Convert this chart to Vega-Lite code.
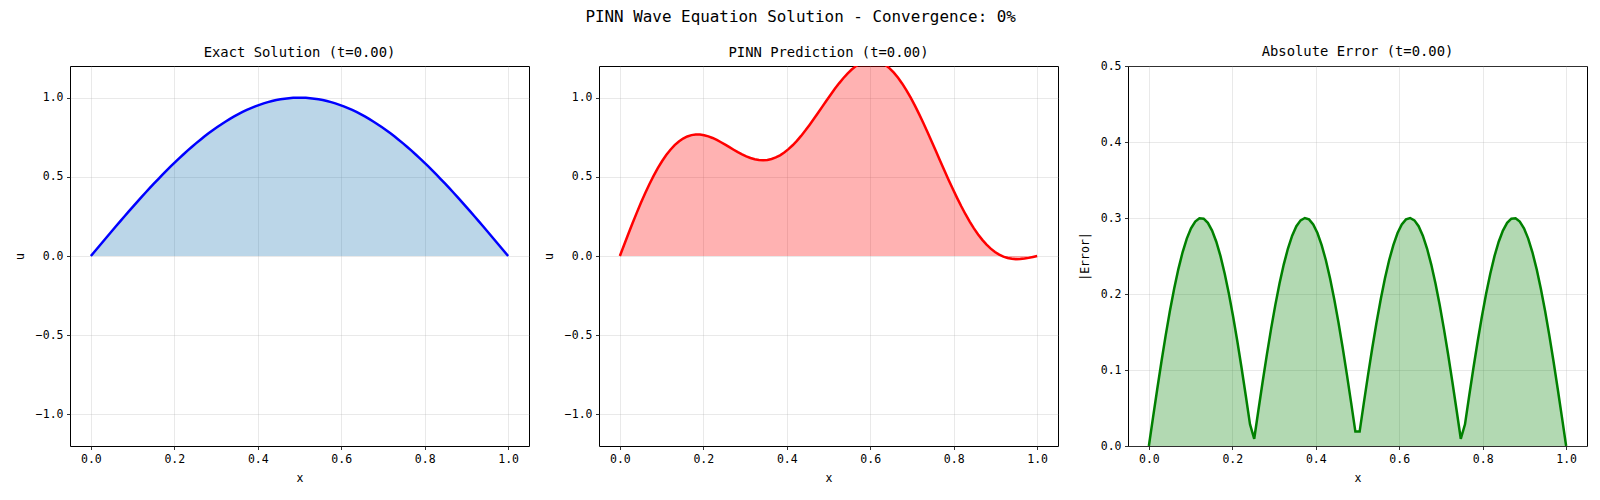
{
  "$schema": "https://vega.github.io/schema/vega-lite/v6.json",
  "padding": {"left": 13, "top": 8, "right": 5, "bottom": 5},
  "background": "white",
  "title": {"text": "PINN Wave Equation Solution - Convergence: 0%", "fontSize": 15.9, "anchor": "middle", "offset": 20},
  "data": {"values": [
    {"x": 0, "exact": 0, "pred": 0, "error": 0},
    {"x": 0.0101, "exact": 0.0317, "pred": 0.0697, "error": 0.0380},
    {"x": 0.0202, "exact": 0.0634, "pred": 0.1388, "error": 0.0753},
    {"x": 0.0303, "exact": 0.0951, "pred": 0.2066, "error": 0.1115},
    {"x": 0.0404, "exact": 0.1266, "pred": 0.2725, "error": 0.1459},
    {"x": 0.0505, "exact": 0.1580, "pred": 0.3359, "error": 0.1779},
    {"x": 0.0606, "exact": 0.1893, "pred": 0.3963, "error": 0.2070},
    {"x": 0.0707, "exact": 0.2203, "pred": 0.4532, "error": 0.2328},
    {"x": 0.0808, "exact": 0.2511, "pred": 0.5061, "error": 0.2549},
    {"x": 0.0909, "exact": 0.2817, "pred": 0.5546, "error": 0.2729},
    {"x": 0.1010, "exact": 0.3120, "pred": 0.5985, "error": 0.2865},
    {"x": 0.1111, "exact": 0.3420, "pred": 0.6375, "error": 0.2954},
    {"x": 0.1212, "exact": 0.3717, "pred": 0.6713, "error": 0.2997},
    {"x": 0.1313, "exact": 0.4009, "pred": 0.7000, "error": 0.2991},
    {"x": 0.1414, "exact": 0.4298, "pred": 0.7234, "error": 0.2936},
    {"x": 0.1515, "exact": 0.4582, "pred": 0.7417, "error": 0.2835},
    {"x": 0.1616, "exact": 0.4862, "pred": 0.7550, "error": 0.2688},
    {"x": 0.1717, "exact": 0.5137, "pred": 0.7634, "error": 0.2498},
    {"x": 0.1818, "exact": 0.5406, "pred": 0.7674, "error": 0.2267},
    {"x": 0.1919, "exact": 0.5671, "pred": 0.7671, "error": 0.2000},
    {"x": 0.2020, "exact": 0.5929, "pred": 0.7630, "error": 0.1701},
    {"x": 0.2121, "exact": 0.6182, "pred": 0.7556, "error": 0.1375},
    {"x": 0.2222, "exact": 0.6428, "pred": 0.7454, "error": 0.1026},
    {"x": 0.2323, "exact": 0.6668, "pred": 0.7329, "error": 0.0661},
    {"x": 0.2424, "exact": 0.6901, "pred": 0.7186, "error": 0.0285},
    {"x": 0.2525, "exact": 0.7127, "pred": 0.7032, "error": 0.0095},
    {"x": 0.2626, "exact": 0.7346, "pred": 0.6872, "error": 0.0474},
    {"x": 0.2727, "exact": 0.7558, "pred": 0.6712, "error": 0.0845},
    {"x": 0.2828, "exact": 0.7761, "pred": 0.6559, "error": 0.1203},
    {"x": 0.2929, "exact": 0.7958, "pred": 0.6417, "error": 0.1541},
    {"x": 0.3030, "exact": 0.8146, "pred": 0.6291, "error": 0.1854},
    {"x": 0.3131, "exact": 0.8326, "pred": 0.6188, "error": 0.2138},
    {"x": 0.3232, "exact": 0.8497, "pred": 0.6110, "error": 0.2387},
    {"x": 0.3333, "exact": 0.8660, "pred": 0.6062, "error": 0.2598},
    {"x": 0.3434, "exact": 0.8815, "pred": 0.6047, "error": 0.2767},
    {"x": 0.3535, "exact": 0.8960, "pred": 0.6068, "error": 0.2892},
    {"x": 0.3636, "exact": 0.9096, "pred": 0.6127, "error": 0.2969},
    {"x": 0.3737, "exact": 0.9224, "pred": 0.6224, "error": 0.3000},
    {"x": 0.3838, "exact": 0.9341, "pred": 0.6360, "error": 0.2982},
    {"x": 0.3939, "exact": 0.9450, "pred": 0.6535, "error": 0.2915},
    {"x": 0.4040, "exact": 0.9549, "pred": 0.6747, "error": 0.2802},
    {"x": 0.4141, "exact": 0.9638, "pred": 0.6994, "error": 0.2644},
    {"x": 0.4242, "exact": 0.9718, "pred": 0.7274, "error": 0.2444},
    {"x": 0.4343, "exact": 0.9788, "pred": 0.7584, "error": 0.2204},
    {"x": 0.4444, "exact": 0.9848, "pred": 0.7920, "error": 0.1928},
    {"x": 0.4545, "exact": 0.9898, "pred": 0.8276, "error": 0.1622},
    {"x": 0.4646, "exact": 0.9938, "pred": 0.8648, "error": 0.1289},
    {"x": 0.4747, "exact": 0.9969, "pred": 0.9032, "error": 0.0936},
    {"x": 0.4848, "exact": 0.9989, "pred": 0.9421, "error": 0.0568},
    {"x": 0.4949, "exact": 0.9999, "pred": 0.9809, "error": 0.0190},
    {"x": 0.5051, "exact": 0.9999, "pred": 1.0189, "error": 0.0190},
    {"x": 0.5152, "exact": 0.9989, "pred": 1.0556, "error": 0.0568},
    {"x": 0.5253, "exact": 0.9969, "pred": 1.0905, "error": 0.0936},
    {"x": 0.5354, "exact": 0.9938, "pred": 1.1228, "error": 0.1289},
    {"x": 0.5455, "exact": 0.9898, "pred": 1.1520, "error": 0.1622},
    {"x": 0.5556, "exact": 0.9848, "pred": 1.1776, "error": 0.1928},
    {"x": 0.5657, "exact": 0.9788, "pred": 1.1992, "error": 0.2204},
    {"x": 0.5758, "exact": 0.9718, "pred": 1.2162, "error": 0.2444},
    {"x": 0.5859, "exact": 0.9638, "pred": 1.2283, "error": 0.2644},
    {"x": 0.5960, "exact": 0.9549, "pred": 1.2351, "error": 0.2802},
    {"x": 0.6061, "exact": 0.9450, "pred": 1.2365, "error": 0.2915},
    {"x": 0.6162, "exact": 0.9341, "pred": 1.2323, "error": 0.2982},
    {"x": 0.6263, "exact": 0.9224, "pred": 1.2223, "error": 0.3000},
    {"x": 0.6364, "exact": 0.9096, "pred": 1.2066, "error": 0.2969},
    {"x": 0.6465, "exact": 0.8960, "pred": 1.1851, "error": 0.2892},
    {"x": 0.6566, "exact": 0.8815, "pred": 1.1582, "error": 0.2767},
    {"x": 0.6667, "exact": 0.8660, "pred": 1.1258, "error": 0.2598},
    {"x": 0.6768, "exact": 0.8497, "pred": 1.0885, "error": 0.2387},
    {"x": 0.6869, "exact": 0.8326, "pred": 1.0464, "error": 0.2138},
    {"x": 0.6970, "exact": 0.8146, "pred": 1.0000, "error": 0.1854},
    {"x": 0.7071, "exact": 0.7958, "pred": 0.9499, "error": 0.1541},
    {"x": 0.7172, "exact": 0.7761, "pred": 0.8964, "error": 0.1203},
    {"x": 0.7273, "exact": 0.7558, "pred": 0.8403, "error": 0.0845},
    {"x": 0.7374, "exact": 0.7346, "pred": 0.7820, "error": 0.0474},
    {"x": 0.7475, "exact": 0.7127, "pred": 0.7222, "error": 0.0095},
    {"x": 0.7576, "exact": 0.6901, "pred": 0.6616, "error": 0.0285},
    {"x": 0.7677, "exact": 0.6668, "pred": 0.6007, "error": 0.0661},
    {"x": 0.7778, "exact": 0.6428, "pred": 0.5402, "error": 0.1026},
    {"x": 0.7879, "exact": 0.6182, "pred": 0.4807, "error": 0.1375},
    {"x": 0.7980, "exact": 0.5929, "pred": 0.4228, "error": 0.1701},
    {"x": 0.8081, "exact": 0.5671, "pred": 0.3670, "error": 0.2000},
    {"x": 0.8182, "exact": 0.5406, "pred": 0.3139, "error": 0.2267},
    {"x": 0.8283, "exact": 0.5137, "pred": 0.2639, "error": 0.2498},
    {"x": 0.8384, "exact": 0.4862, "pred": 0.2174, "error": 0.2688},
    {"x": 0.8485, "exact": 0.4582, "pred": 0.1747, "error": 0.2835},
    {"x": 0.8586, "exact": 0.4298, "pred": 0.1362, "error": 0.2936},
    {"x": 0.8687, "exact": 0.4009, "pred": 0.1019, "error": 0.2991},
    {"x": 0.8788, "exact": 0.3717, "pred": 0.0720, "error": 0.2997},
    {"x": 0.8889, "exact": 0.3420, "pred": 0.0466, "error": 0.2954},
    {"x": 0.8990, "exact": 0.3120, "pred": 0.0256, "error": 0.2865},
    {"x": 0.9091, "exact": 0.2817, "pred": 0.0088, "error": 0.2729},
    {"x": 0.9192, "exact": 0.2511, "pred": -0.0038, "error": 0.2549},
    {"x": 0.9293, "exact": 0.2203, "pred": -0.0125, "error": 0.2328},
    {"x": 0.9394, "exact": 0.1893, "pred": -0.0178, "error": 0.2070},
    {"x": 0.9495, "exact": 0.1580, "pred": -0.0199, "error": 0.1779},
    {"x": 0.9596, "exact": 0.1266, "pred": -0.0193, "error": 0.1459},
    {"x": 0.9697, "exact": 0.0951, "pred": -0.0164, "error": 0.1115},
    {"x": 0.9798, "exact": 0.0634, "pred": -0.0119, "error": 0.0753},
    {"x": 0.9899, "exact": 0.0317, "pred": -0.0062, "error": 0.0380},
    {"x": 1, "exact": 0, "pred": 0, "error": 0}
  ]},
  "hconcat": [
    {
      "width": 459, "height": 380,
      "title": {"text": "Exact Solution (t=0.00)", "offset": 6},
      "encoding": {
        "x": {"field": "x", "type": "quantitative", "scale": {"domain": [-0.05, 1.05], "nice": false, "zero": false}, "axis": {"values": [0, 0.2, 0.4, 0.6, 0.8, 1.0], "format": ".1f", "title": "x", "titlePadding": 8}}
      },
      "layer": [
        {"mark": {"type": "area", "color": "#1f77b4", "opacity": 0.3, "clip": true},
         "encoding": {"y": {"field": "exact", "type": "quantitative", "scale": {"domain": [-1.2, 1.2], "nice": false, "zero": false}, "axis": {"values": [-1, -0.5, 0, 0.5, 1], "format": ".1f", "title": "u", "titlePadding": 10}}, "y2": {"datum": 0}}},
        {"mark": {"type": "line", "color": "blue", "strokeWidth": 2.5, "clip": true},
         "encoding": {"y": {"field": "exact", "type": "quantitative"}}}
      ]
    },
    {
      "width": 459, "height": 380,
      "title": {"text": "PINN Prediction (t=0.00)", "offset": 6},
      "encoding": {
        "x": {"field": "x", "type": "quantitative", "scale": {"domain": [-0.05, 1.05], "nice": false, "zero": false}, "axis": {"values": [0, 0.2, 0.4, 0.6, 0.8, 1.0], "format": ".1f", "title": "x", "titlePadding": 8}}
      },
      "layer": [
        {"mark": {"type": "area", "color": "red", "opacity": 0.3, "clip": true},
         "encoding": {"y": {"field": "pred", "type": "quantitative", "scale": {"domain": [-1.2, 1.2], "nice": false, "zero": false}, "axis": {"values": [-1, -0.5, 0, 0.5, 1], "format": ".1f", "title": "u", "titlePadding": 10}}, "y2": {"datum": 0}}},
        {"mark": {"type": "line", "color": "red", "strokeWidth": 2.5, "clip": true},
         "encoding": {"y": {"field": "pred", "type": "quantitative"}}}
      ]
    },
    {
      "width": 459, "height": 380,
      "title": {"text": "Absolute Error (t=0.00)", "offset": 1},
      "encoding": {
        "x": {"field": "x", "type": "quantitative", "scale": {"domain": [-0.05, 1.05], "nice": false, "zero": false}, "axis": {"values": [0, 0.2, 0.4, 0.6, 0.8, 1.0], "format": ".1f", "title": "x", "titlePadding": 8}}
      },
      "layer": [
        {"mark": {"type": "area", "color": "green", "opacity": 0.3, "clip": true},
         "encoding": {"y": {"field": "error", "type": "quantitative", "scale": {"domain": [0, 0.5], "nice": false, "zero": false}, "axis": {"values": [0, 0.1, 0.2, 0.3, 0.4, 0.5], "format": ".1f", "title": "|Error|", "titlePadding": 10}}, "y2": {"datum": 0}}},
        {"mark": {"type": "line", "color": "green", "strokeWidth": 2.5, "clip": true},
         "encoding": {"y": {"field": "error", "type": "quantitative"}}}
      ]
    }
  ],
  "spacing": 70,
  "bounds": "flush",
  "config": {
    "font": "DejaVu Sans Mono",
    "view": {"stroke": "black", "strokeWidth": 1},
    "axis": {"domain": false, "grid": true, "gridColor": "#b0b0b0", "gridOpacity": 0.35, "gridWidth": 0.8, "tickColor": "black", "tickSize": 3.5, "tickWidth": 0.8, "labelFont": "DejaVu Sans Mono", "labelFontSize": 11.5, "labelColor": "black", "labelPadding": 3.5, "titleFont": "DejaVu Sans Mono", "titleFontSize": 11.5, "titleFontWeight": "normal", "titleColor": "black"},
    "title": {"font": "DejaVu Sans Mono", "fontWeight": "normal", "color": "black", "fontSize": 13.85}
  }
}
